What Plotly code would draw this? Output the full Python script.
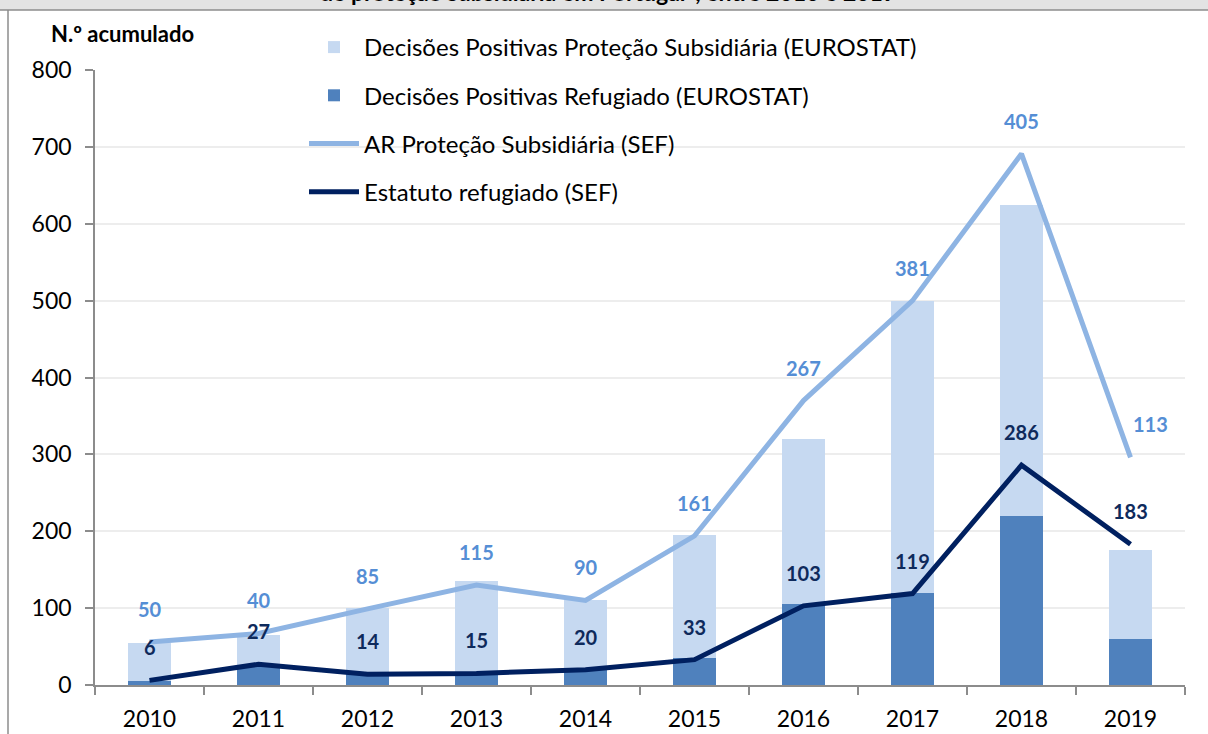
import plotly.graph_objects as go

years = ["2010", "2011", "2012", "2013", "2014", "2015", "2016", "2017", "2018", "2019"]
# EUROSTAT positive decisions (bars, stacked)
eurostat_refugiado = [5, 25, 15, 15, 20, 35, 105, 120, 220, 60]
eurostat_subsidiaria = [50, 40, 85, 120, 90, 160, 215, 380, 405, 115]
# SEF residence permits
sef_refugiado = [6, 27, 14, 15, 20, 33, 103, 119, 286, 183]
sef_subsidiaria = [50, 40, 85, 115, 90, 161, 267, 381, 405, 113]
sef_acumulado = [a + b for a, b in zip(sef_refugiado, sef_subsidiaria)]

C_LIGHT_BAR = "#C6D9F1"
C_DARK_BAR = "#4F81BD"
C_LIGHT_LINE = "#8EB4E3"
C_DARK_LINE = "#002060"
C_LIGHT_LABEL = "#558ED5"
C_DARK_LABEL = "#0E2A5C"
AXIS_GRAY = "#8C8C8C"

W, H = 1208, 734
ML, MR, MT, MB = 95, 23, 70, 49
PW, PH = W - ML - MR, H - MT - MB

def px_x(p):
    return (p - ML) / PW

def px_y(p):
    return 1 + (MT - p) / PH

fig = go.Figure()

fig.add_trace(go.Bar(
    x=years, y=eurostat_refugiado, name="Decisões Positivas Refugiado (EUROSTAT)",
    marker=dict(color=C_DARK_BAR, line=dict(width=0)),
    legendrank=2, legendgroup="b",
))
fig.add_trace(go.Bar(
    x=years, y=eurostat_subsidiaria, name="Decisões Positivas Proteção Subsidiária (EUROSTAT)",
    marker=dict(color=C_LIGHT_BAR, line=dict(width=0)),
    legendrank=1, legendgroup="a",
))
fig.add_trace(go.Scatter(
    x=years, y=sef_acumulado, mode="lines", name="AR Proteção Subsidiária (SEF)",
    line=dict(color=C_LIGHT_LINE, width=5),
    legendrank=3, legendgroup="c",
))
fig.add_trace(go.Scatter(
    x=years, y=sef_refugiado, mode="lines", name="Estatuto refugiado (SEF)",
    line=dict(color=C_DARK_LINE, width=5),
    legendrank=4, legendgroup="d",
))

annotations = []
for i, yr in enumerate(years):
    annotations.append(dict(
        x=i, y=sef_acumulado[i], xref="x", yref="y", text=str(sef_subsidiaria[i]),
        showarrow=False, yshift=33, xshift=(20 if i == len(years) - 1 else 0),
        font=dict(family="Lato", size=20, color=C_LIGHT_LABEL, weight="bold"),
    ))
    annotations.append(dict(
        x=i, y=sef_refugiado[i], xref="x", yref="y", text=str(sef_refugiado[i]),
        showarrow=False, yshift=33,
        font=dict(family="Lato", size=20, color=C_DARK_LABEL, weight="bold"),
    ))

annotations.append(dict(
    x=px_x(49), y=px_y(33), xref="paper", yref="paper", xanchor="left", yanchor="middle",
    text="<b>N.º acumulado</b>", showarrow=False,
    font=dict(family="Lato", size=22, color="#000000"),
))
annotations.append(dict(
    x=px_x(608), y=px_y(-8), xref="paper", yref="paper", xanchor="center", yanchor="middle",
    text="<b>de proteção subsidiária em Portugal*, entre 2010 e 2019</b>", showarrow=False,
    font=dict(family="Lato", size=23, color="#000000"),
))

shapes = [
    dict(type="rect", xref="paper", yref="paper", x0=px_x(0), x1=px_x(W), y0=px_y(10), y1=px_y(-5),
         fillcolor="#E3E3E3", line=dict(width=0), layer="below"),
    dict(type="line", xref="paper", yref="paper", x0=px_x(0), x1=px_x(W), y0=px_y(10), y1=px_y(10),
         line=dict(color="#8C8C8C", width=1.5)),
    dict(type="line", xref="paper", yref="paper", x0=px_x(8), x1=px_x(8), y0=px_y(10), y1=px_y(H + 5),
         line=dict(color="#8C8C8C", width=1.5)),
]

fig.update_layout(
    width=W, height=H,
    margin=dict(l=ML, r=MR, t=MT, b=MB, autoexpand=False),
    paper_bgcolor="white", plot_bgcolor="white",
    barmode="stack", bargap=0.6,
    font=dict(family="Lato", color="#000000"),
    showlegend=True,
    legend=dict(
        x=px_x(304), y=px_y(25), xanchor="left", yanchor="top",
        xref="paper", yref="paper",
        bgcolor="rgba(0,0,0,0)", borderwidth=0,
        font=dict(family="Lato", size=24, color="#000000"),
        traceorder="grouped", tracegroupgap=14, itemwidth=50,
    ),
    annotations=annotations,
    shapes=shapes,
)

fig.update_xaxes(
    type="category", range=[-0.5, len(years) - 0.5],
    showline=True, linecolor=AXIS_GRAY, linewidth=1.5,
    ticks="outside", tickson="boundaries", ticklen=8, tickcolor=AXIS_GRAY, tickwidth=1.5,
    tickfont=dict(family="Lato", size=23, color="#000000"),
    ticklabelstandoff=13, showgrid=False,
)
fig.update_yaxes(
    range=[0, 800], dtick=100, showline=True, linecolor=AXIS_GRAY, linewidth=1.5,
    ticks="outside", ticklen=8, tickcolor=AXIS_GRAY, tickwidth=1.5,
    tickfont=dict(family="Lato", size=23, color="#000000"),
    ticklabelstandoff=9,
    showgrid=True, gridcolor="#EDEDED", gridwidth=1.5, zeroline=False,
)

fig.write_html(
    "out.html",
    config={"displayModeBar": False},
    post_script="document.body.style.margin='0';document.body.style.overflow='hidden';",
)
